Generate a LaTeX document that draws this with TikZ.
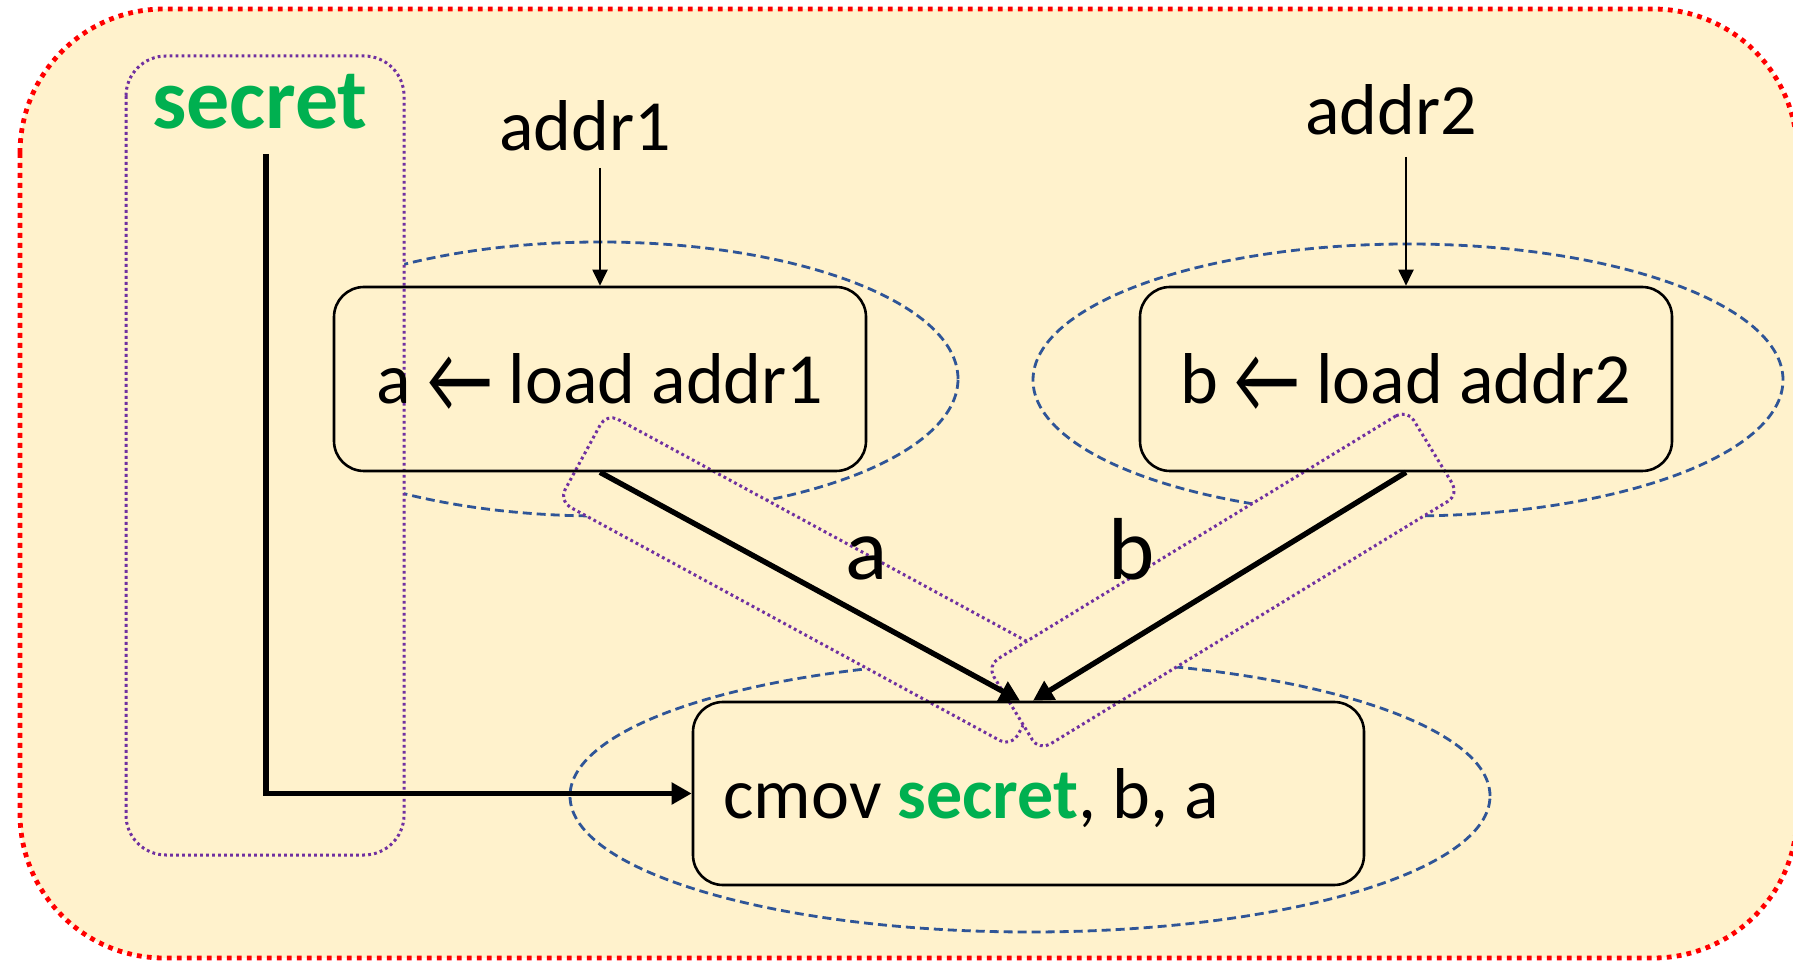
\documentclass[tikz,border=0pt]{standalone}
\usepackage{fontspec}
\setmainfont{Carlito}
\usetikzlibrary{arrows.meta,calc}
\definecolor{bgfill}{HTML}{FFF2CC}
\definecolor{secgreen}{HTML}{00B050}
\definecolor{dashblue}{HTML}{2F5597}
\definecolor{dotpurple}{HTML}{7030A0}
\definecolor{framered}{HTML}{FF0000}
% taller assignment arrow, kept out of the line's height and depth
\newcommand{\assignarrow}{\raisebox{-0.12em}[0pt][0pt]{\scalebox{1}[1.35]{←}}}

\begin{document}
\begin{tikzpicture}[x=0.5pt,y=-0.5pt,
  frame/.style={draw=framered, line width=2.4pt, dash pattern=on 2.4pt off 2.6pt, fill=bgfill, rounded corners=72pt},
  group/.style={draw=dashblue, line width=1.4pt, dash pattern=on 4.5pt off 2.5pt},
  flow/.style={draw=dotpurple, line width=1.5pt, dash pattern=on 1.4pt off 1.6pt, fill=bgfill},
  flowband/.style={flow, rounded corners=6.5pt, inner sep=0pt, minimum height=50pt},
  instr/.style={draw=black, line width=1.3pt, rounded corners=15pt, inner sep=0pt,
    minimum width=266pt, minimum height=92pt, font=\fontsize{36}{43}\selectfont},
  lbl/.style={inner sep=0pt, font=\fontsize{36}{43}\selectfont},
  biglbl/.style={inner sep=0pt, font=\fontsize{44}{52}\selectfont},
  feed/.style={line width=1pt, -{Triangle[length=8pt,width=7.5pt]}},
  dataflow/.style={line width=2.7pt, -{Triangle[length=10pt,width=10.5pt]}},
]
\clip (0,0) rectangle (1793,961);

% background frame
\path[frame] (20,9) rectangle (1797,958);

% dashed groupings around the instructions
\draw[group] (600,379) ellipse [x radius=179pt, y radius=68.5pt];
\draw[group] (1408,380) ellipse [x radius=187.5pt, y radius=68pt];
\draw[group] (1030,796) ellipse [x radius=230pt, y radius=68pt];

% dotted bands around the data flows
\path[flow, rounded corners=20pt] (126,56) rectangle (404,855);
\node[flowband, minimum width=257.5pt, rotate=-28.5] (ga) at (809,580) {};
\node[flowband, minimum width=246pt, rotate=31.4] (gb) at (1223,580) {};

% instructions
\node[instr] (b1) at (600,379) {a \assignarrow{} load addr1};
\node[instr] (b2) at (1406,379) {b \assignarrow{} load addr2};
\node[instr, minimum width=335.5pt, minimum height=91.5pt] (b3) at (1028.5,793.5) {};
\node[lbl, anchor=base west] (t3) at (723,818) {cmov \textcolor{secgreen}{\bfseries secret}, b, a};

% inputs and labels
\node[inner sep=0pt, font=\fontsize{43}{52}\selectfont\bfseries, text=secgreen, anchor=base] (sec) at (260,129) {secret};
\node[lbl, anchor=base] (ad1) at (585,151) {addr1};
\node[lbl, anchor=base] (ad2) at (1391,135) {addr2};
\node[biglbl, anchor=base] (la) at (867,580) {a};
\node[biglbl, anchor=base] (lb) at (1132,580) {b};

% connectors
\coordinate (f1) at (600,168);
\coordinate (f2) at (1406,157);
\coordinate (s0) at (266,154);
\draw[feed] (f1) -- (b1.north);
\draw[feed] (f2) -- (b2.north);
\draw[dataflow] (b1.south) -- ([xshift=-4.25pt]b3.north);
\draw[dataflow] (b2.south) -- ([xshift=2.25pt]b3.north);
\draw[dataflow] (s0) |- (b3.west);
\end{tikzpicture}
\end{document}
